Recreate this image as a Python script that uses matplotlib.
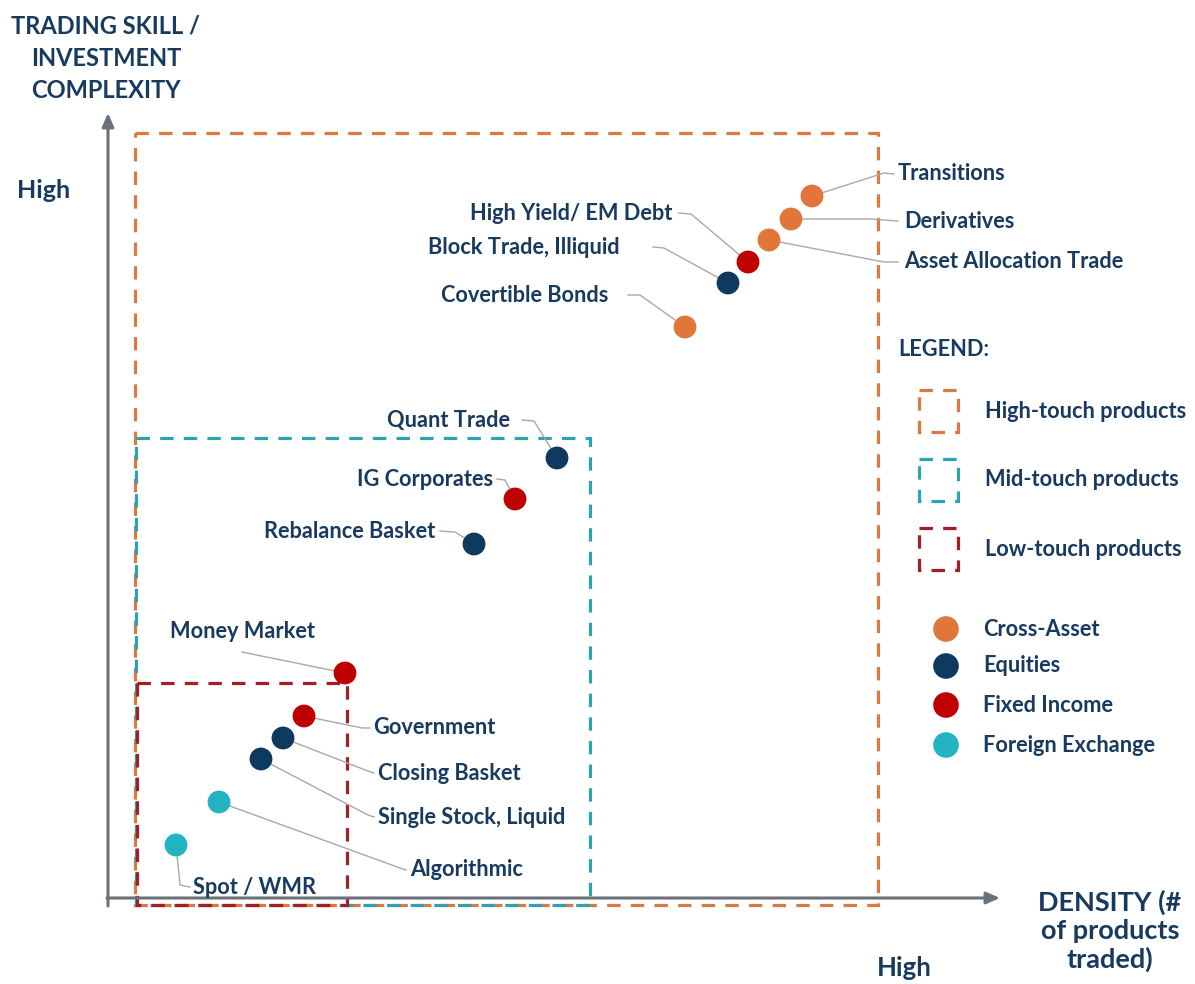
import matplotlib.pyplot as plt
from matplotlib.patches import Rectangle

# products (position: density -> x, skill -> y, in pixel units)
products = ['Transitions', 'Derivatives', 'Asset Allocation Trade', 'High Yield/ EM Debt',
            'Block Trade, Illiquid', 'Covertible Bonds', 'Quant Trade', 'IG Corporates',
            'Rebalance Basket', 'Money Market', 'Government', 'Closing Basket',
            'Single Stock, Liquid', 'Algorithmic', 'Spot / WMR']
density = [812, 791, 769, 748, 728, 685, 557, 515, 474, 345, 304, 283, 261, 219, 176]
skill = [196, 219, 240, 262, 283, 327, 458, 499, 544, 673, 716, 738, 759, 802, 845]
asset_class = ['Cross-Asset', 'Cross-Asset', 'Cross-Asset', 'Fixed Income',
               'Equities', 'Cross-Asset', 'Equities', 'Fixed Income',
               'Equities', 'Fixed Income', 'Fixed Income', 'Equities',
               'Equities', 'Foreign Exchange', 'Foreign Exchange']

classes = ['Cross-Asset', 'Equities', 'Fixed Income', 'Foreign Exchange']
class_colors = {'Cross-Asset': '#E0763A', 'Equities': '#0E3A5F',
                'Fixed Income': '#C00000', 'Foreign Exchange': '#22B4C0'}

# touch regions: (label, x0, x1, y_top, y_bottom)
zones = ['High-touch products', 'Mid-touch products', 'Low-touch products']
zone_x0 = [135, 136, 137]
zone_x1 = [878, 590, 347]
zone_top = [133, 438, 683]
zone_bottom = [905, 905, 905]
zone_colors = ['#DB7A3E', '#2BA4AE', '#A61E23']

# label layout: text x, text y, alignment, connector start x, elbow x, elbow y
label_layout = [
    (898, 174, 'left', 894, 884, 173),
    (904, 221, 'left', 898, 870, 219),
    (904, 262, 'left', 898, 884, 262),
    (672, 213, 'right', 679, 691, 214),
    (620, 247, 'right', 653, 664, 248),
    (608, 295, 'right', 628, 640, 295),
    (510, 420, 'right', 522, 534, 421),
    (493, 479, 'right', 497, 505, 480),
    (435, 531, 'right', 440, 455, 532),
    (170, 632, 'left', 242, 242, 652),
    (373, 728, 'left', 370, 362, 728),
    (378, 773, 'left', 374, 368, 771),
    (378, 817, 'left', 374, 368, 815),
    (410, 870, 'left', 406, 400, 868),
    (193, 887, 'left', 190, 180, 885),
]

navy = '#173A5E'
font = 'Lato'
lab_fs = 15.7

fig = plt.figure(figsize=(11.95, 9.84), dpi=100)
ax = fig.add_axes([0, 0, 1, 1])
ax.set_xlim(0, 1195)
ax.set_ylim(984, 0)
ax.axis('off')

# axes arrows
ax.annotate('', xy=(108, 113), xytext=(108, 906),
            arrowprops=dict(arrowstyle='-|>,head_length=0.8,head_width=0.35',
                            color='#6B7178', lw=2.2, shrinkA=0, shrinkB=0))
ax.annotate('', xy=(1000, 898), xytext=(107, 898),
            arrowprops=dict(arrowstyle='-|>,head_length=0.8,head_width=0.35',
                            color='#6B7178', lw=2.2, shrinkA=0, shrinkB=0))

# dashed zones
for x0, x1, yt, yb, c in zip(zone_x0, zone_x1, zone_top, zone_bottom, zone_colors):
    ax.add_patch(Rectangle((x0, yt), x1 - x0, yb - yt, fill=False, ec=c,
                           lw=2.3, ls=(0, (4.2, 3.2)), zorder=2))

# connectors
for (tx, ty, ha, sx, ex, ey), x, y in zip(label_layout, density, skill):
    ax.plot([sx, ex, x], [ty if ha != 'left' or sx != ex else ey, ey, y],
            color='#A8A8A8', lw=1.0, zorder=3)

# dots
for x, y, cl in zip(density, skill, asset_class):
    ax.scatter(x, y, s=270, color=class_colors[cl], edgecolors='none', zorder=4)

# labels
for name, (tx, ty, ha, sx, ex, ey) in zip(products, label_layout):
    ax.text(tx, ty, name, ha=ha, va='center', fontsize=lab_fs, fontweight='bold',
            color=navy, family=font, zorder=5)

# axis titles
ax.text(106, 58, 'TRADING SKILL /\nINVESTMENT\nCOMPLEXITY', ha='center', va='center',
        fontsize=17, fontweight='bold', color=navy, family=font, linespacing=1.5)
ax.text(17, 191, 'High', ha='left', va='center', fontsize=18, fontweight='bold',
        color=navy, family=font)
ax.text(904, 968, 'High', ha='center', va='center', fontsize=18.5, fontweight='bold',
        color=navy, family=font)
ax.text(1110, 931, 'DENSITY (#\nof products\ntraded)', ha='center', va='center',
        fontsize=19.5, fontweight='bold', color=navy, family=font, linespacing=1.2)

# legend
ax.text(898, 350, 'LEGEND:', ha='left', va='center', fontsize=lab_fs, fontweight='bold',
        color=navy, family=font)
leg_zone_y = [411, 480, 549]
for name, c, ly in zip(zones, zone_colors, leg_zone_y):
    ax.add_patch(Rectangle((919, ly - 21), 39, 42, fill=False, ec=c, lw=2.3,
                           ls=(0, (4.2, 3.2))))
    ax.text(985, ly, name, ha='left', va='center', fontsize=lab_fs, fontweight='bold',
            color=navy, family=font)
leg_dot_y = [629, 666, 705, 745]
for cl, ly in zip(classes, leg_dot_y):
    ax.scatter(946, ly, s=340, color=class_colors[cl], edgecolors='none')
    ax.text(983, ly, cl, ha='left', va='center', fontsize=lab_fs, fontweight='bold',
            color=navy, family=font)

fig.savefig('out.png', dpi=100)
